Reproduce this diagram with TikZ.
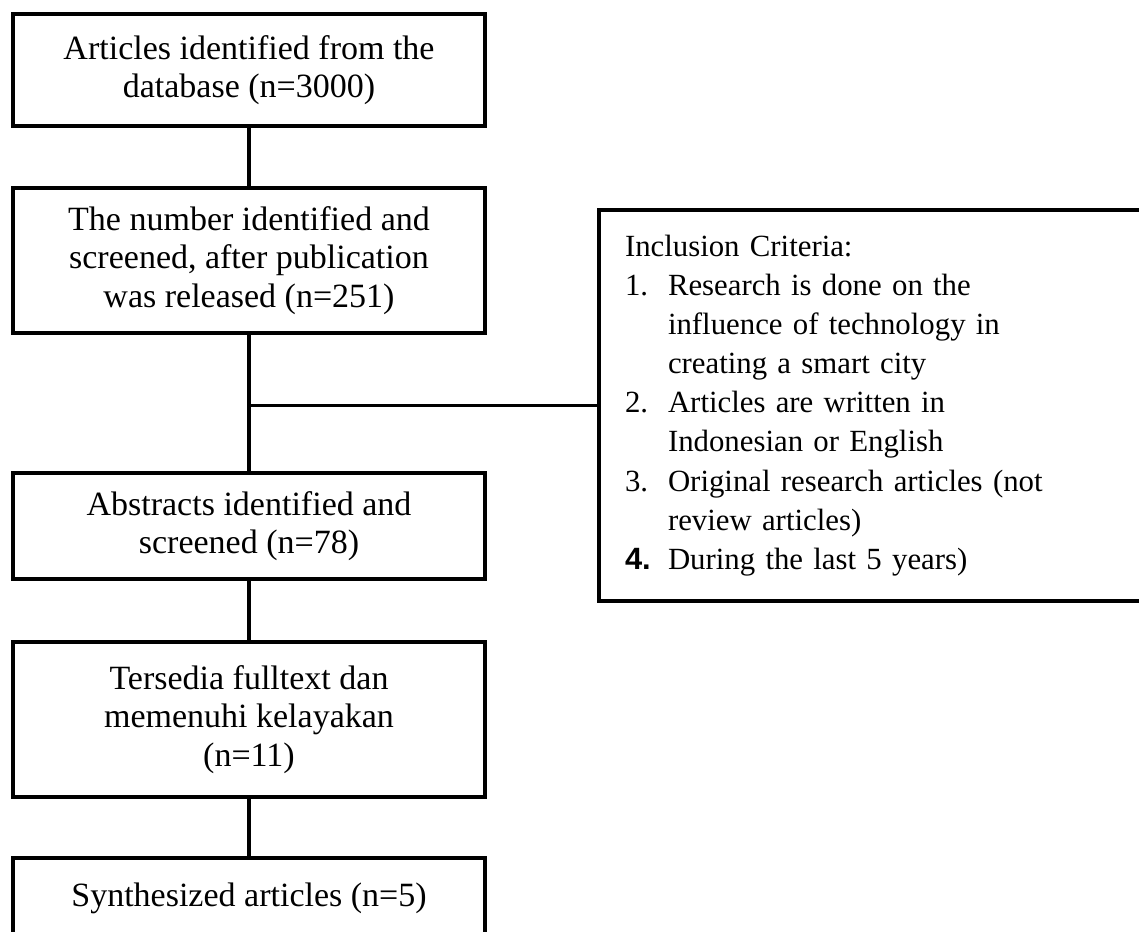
\documentclass[tikz,border=0pt]{standalone}
\usepackage{fontspec}
\setmainfont{Liberation Serif}
\newfontfamily\numfont{Liberation Sans}
\usetikzlibrary{positioning}
\tikzset{
	box/.style={draw, line width=4.5pt, outer sep=0pt, minimum width=472pt, align=center, font=\fontsize{34}{38.3}\selectfont}, % boxes of the left column
	critbox/.style={draw, line width=4.5pt, outer sep=0pt, anchor=north west, minimum width=542pt, minimum height=391pt, text width=490pt, inner xsep=26pt, align=left, font=\fontsize{30.8}{39.1}\selectfont}, % box with the criteria list
	link/.style={line width=3.3pt}, % plain connecting lines
}
\newcommand{\critnum}[1]{\makebox[43pt][l]{#1}}
\newcommand{\critgap}{\hspace*{43pt}}

\begin{document}
\begin{tikzpicture}[x=1pt,y=-1pt]
		\useasboundingbox (0,0) rectangle (1139,931);
		\clip (0,0) rectangle (1139,931);
		
		\node[box, minimum height=112pt] (found) at (249,70) {Articles identified from the\\database (n=3000)};
		\node[box, minimum height=145pt, below=62pt of found] (screened) {The number identified and\\screened, after publication\\was released (n=251)};
		\node[box, minimum height=106pt, below=140pt of screened] (abstracts) {Abstracts identified and\\screened (n=78)};
		\node[box, minimum height=155pt, below=63pt of abstracts] (fulltext) {Tersedia fulltext dan\\memenuhi kelayakan\\(n=11)};
		\node[box, minimum height=80pt, below=61pt of fulltext] (synth) {Synthesized articles (n=5)};
		
		\node[critbox] (crit) at (599,210) {Inclusion Criteria:\\
			\critnum{1.}Research is done on the\\
			\critgap influence of technology in\\
			\critgap creating a smart city\\
			\critnum{2.}Articles are written in\\
			\critgap Indonesian or English\\
			\critnum{3.}Original research articles (not\\
			\critgap review articles)\\
			\critnum{\numfont\bfseries 4.}During the last 5 years)};
		
		\draw[link] (found) -- (screened);
		\draw[link] (screened) -- (abstracts);
		\draw[link] (abstracts) -- (fulltext);
		\draw[link] (fulltext) -- (synth);
		\draw[link] (crit.west) -- (crit.west -| screened.south);
\end{tikzpicture}
\end{document}
